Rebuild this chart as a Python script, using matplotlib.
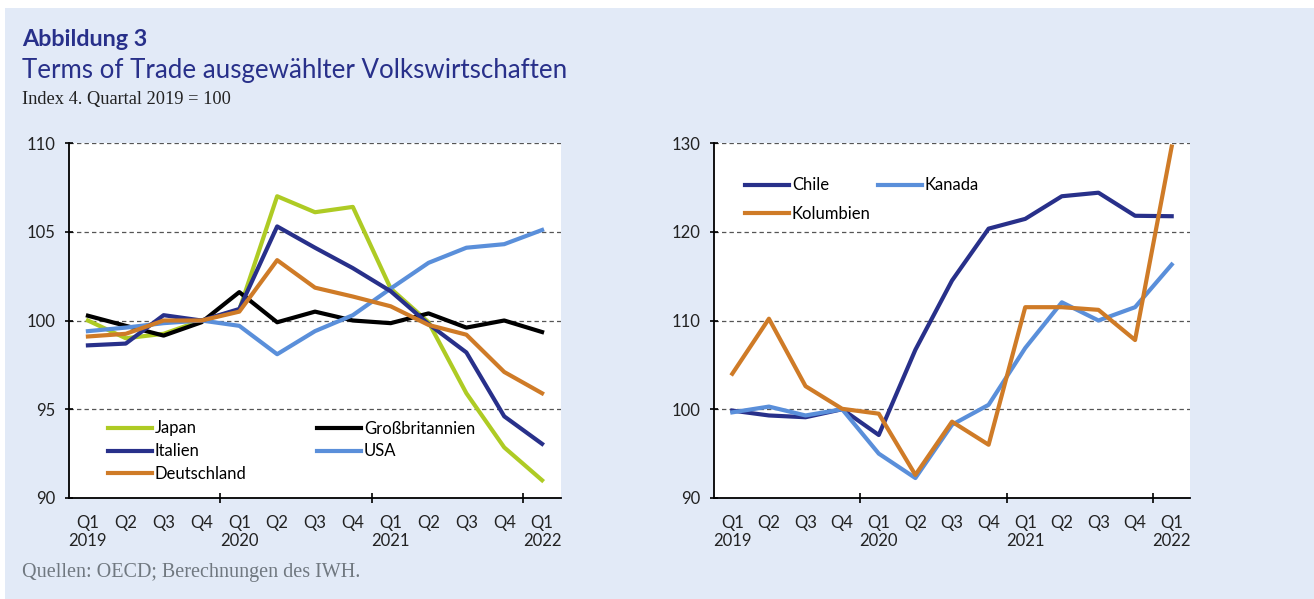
import matplotlib
matplotlib.use("Agg")
import matplotlib.pyplot as plt
from matplotlib.patches import Rectangle

# ---------------- data ----------------
quarters = ["Q1", "Q2", "Q3", "Q4", "Q1", "Q2", "Q3", "Q4", "Q1", "Q2", "Q3", "Q4", "Q1"]
years = ["2019", "", "", "", "2020", "", "", "", "2021", "", "", "", "2022"]

japan = [100.0, 99.0, 99.25, 100.0, 100.6, 107.0, 106.1, 106.4, 101.8, 99.9, 95.9, 92.85, 91.0]
grossbritannien = [100.27, 99.7, 99.15, 99.9, 101.6, 99.9, 100.5, 100.0, 99.85, 100.4, 99.6, 100.0, 99.35]
italien = [98.6, 98.7, 100.3, 100.0, 100.65, 105.3, 104.1, 102.95, 101.65, 99.8, 98.2, 94.6, 93.05]
usa = [99.4, 99.6, 99.85, 100.0, 99.7, 98.1, 99.4, 100.3, 101.8, 103.25, 104.1, 104.3, 105.1]
deutschland = [99.1, 99.25, 100.0, 100.0, 100.5, 103.4, 101.85, 101.35, 100.8, 99.75, 99.2, 97.1, 95.9]

chile = [99.85, 99.3, 99.1, 100.0, 97.1, 106.7, 114.5, 120.35, 121.45, 124.0, 124.4, 121.8, 121.75]
kanada = [99.65, 100.3, 99.3, 100.0, 95.0, 92.25, 98.25, 100.5, 106.9, 112.05, 110.0, 111.5, 116.3]
kolumbien = [104.0, 110.2, 102.6, 100.05, 99.5, 92.6, 98.6, 96.0, 111.5, 111.5, 111.2, 107.8, 129.6]

left_yticks = [90, 95, 100, 105, 110]
right_yticks = [90, 100, 110, 120, 130]

# ---------------- style ----------------
W, H = 1314, 599
BG = "#E2EAF7"
NAVY = "#28308A"
C_JAPAN = "#AECB24"
C_GB = "#000000"
C_IT = "#28308A"
C_USA = "#5A8FDA"
C_DE = "#CF7B27"
SANS = ["Lato", "DejaVu Sans"]
SERIF = ["Liberation Serif", "DejaVu Serif"]
LW = 3.0
FS = 12

plt.rcParams["font.family"] = SANS

fig = plt.figure(figsize=(W / 100, H / 100), dpi=100)
fig.patch.set_facecolor("white")
fig.add_artist(Rectangle((5 / W, 0), 1 - 5 / W, 1 - 8 / H, transform=fig.transFigure,
                         facecolor=BG, edgecolor="none", zorder=-10))


def px_axes(l, t, r, b):
    return fig.add_axes([l / W, 1 - b / H, (r - l) / W, (b - t) / H])


def ftext(x, y, s, **kw):
    return fig.text(x / W, 1 - y / H, s, va="baseline", ha="left", **kw)


def fit(t, target):
    for _ in range(3):
        fig.canvas.draw()
        w = t.get_window_extent().width
        t.set_fontsize(t.get_fontsize() * target / w)


x = list(range(len(quarters)))
xlabels = [q + ("\n" + y if y else "") for q, y in zip(quarters, years)]


def style_axes(ax, yticks):
    ax.set_facecolor("white")
    ax.set_xlim(-0.5, len(x) - 0.5)
    ax.set_ylim(yticks[0], yticks[-1])
    for s in ["top", "right"]:
        ax.spines[s].set_visible(False)
    for s in ["left", "bottom"]:
        ax.spines[s].set_linewidth(1.3)
        ax.spines[s].set_color("black")
    ax.set_yticks(yticks)
    ax.set_yticklabels([str(v) for v in yticks])
    ax.tick_params(axis="y", direction="inout", length=6, width=1.2, pad=6.5,
                   labelsize=FS, labelcolor="#222222")
    ax.set_xticks([3.5, 7.5, 11.5])
    ax.set_xticklabels([])
    ax.tick_params(axis="x", which="major", direction="inout", length=7.5, width=1.2)
    ax.set_xticks(x, minor=True)
    ax.set_xticklabels(xlabels, minor=True, fontsize=FS, color="#222222", linespacing=1.17)
    ax.tick_params(axis="x", which="minor", length=0, pad=12)
    for v in yticks[1:]:
        ax.axhline(v, color="#555555", lw=0.9, ls=(0, (3.5, 2.5)), zorder=1)


# ---------------- left chart ----------------
ax1 = px_axes(69, 143, 561, 498)
style_axes(ax1, left_yticks)
h_jp, = ax1.plot(x, japan, color=C_JAPAN, lw=LW, label="Japan", zorder=3)
h_gb, = ax1.plot(x, grossbritannien, color=C_GB, lw=LW, label="Großbritannien", zorder=3)
h_it, = ax1.plot(x, italien, color=C_IT, lw=LW, label="Italien", zorder=4)
h_us, = ax1.plot(x, usa, color=C_USA, lw=LW, label="USA", zorder=3)
h_de, = ax1.plot(x, deutschland, color=C_DE, lw=LW, label="Deutschland", zorder=5)

leg_kw = dict(frameon=False, fontsize=FS, handlelength=2.63, handletextpad=0.18,
              borderpad=0, borderaxespad=0, loc="upper left",
              bbox_transform=fig.transFigure)
lg1 = ax1.legend([h_jp, h_it, h_de], ["Japan", "Italien", "Deutschland"],
                 bbox_to_anchor=(108 / W, 1 - 420.5 / H), labelspacing=0.41, **leg_kw)
ax1.add_artist(lg1)
ax1.legend([h_gb, h_us], ["Großbritannien", "USA"],
           bbox_to_anchor=(317 / W, 1 - 420.5 / H), labelspacing=0.41, **leg_kw)

# ---------------- right chart ----------------
ax2 = px_axes(714, 143, 1190, 498)
style_axes(ax2, right_yticks)
h_ch, = ax2.plot(x, chile, color=NAVY, lw=LW, label="Chile", zorder=3)
h_ka, = ax2.plot(x, kanada, color=C_USA, lw=LW, label="Kanada", zorder=3)
h_ko, = ax2.plot(x, kolumbien, color=C_DE, lw=LW, label="Kolumbien", zorder=4, clip_on=False)
lg2 = ax2.legend([h_ch, h_ko], ["Chile", "Kolumbien"],
                 bbox_to_anchor=(745 / W, 1 - 177.5 / H), labelspacing=0.77, **leg_kw)
ax2.add_artist(lg2)
ax2.legend([h_ka], ["Kanada"], bbox_to_anchor=(878 / W, 1 - 177.5 / H),
           labelspacing=0.77, **leg_kw)

# ---------------- header / footer ----------------
t1 = ftext(22, 46, "Abbildung 3", fontsize=14, fontweight="bold", color=NAVY)
t2 = ftext(22, 78, "Terms of Trade ausgewählter Volkswirtschaften", fontsize=19, color=NAVY)
t3 = ftext(22, 104, "Index 4. Quartal 2019 = 100", fontsize=12, color="#222222", family=SERIF)
t4 = ftext(22, 577, "Quellen: OECD; Berechnungen des IWH.", fontsize=12, color="#707880", family=SERIF)
fit(t1, 126)
fit(t2, 543)
fit(t3, 210)
fit(t4, 338)

fig.savefig("out.png", dpi=100, facecolor=fig.get_facecolor())
